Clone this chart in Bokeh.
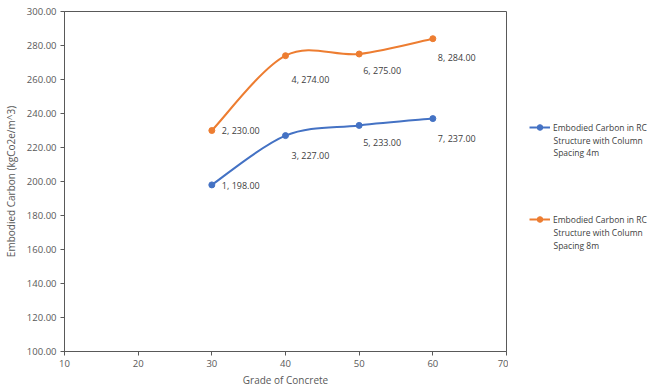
from bokeh.plotting import figure
from bokeh.layouts import row
from bokeh.models import (ColumnDataSource, Range1d, FixedTicker, NumeralTickFormatter,
                          Legend, LegendItem, Label)
from bokeh.core.properties import value
from bokeh.embed import file_html
from bokeh.resources import INLINE

# Data
grades = [30, 40, 50, 60]
carbon_4m = [198.0, 227.0, 233.0, 237.0]
carbon_8m = [230.0, 274.0, 275.0, 284.0]
point_ids_4m = [1, 3, 5, 7]
point_ids_8m = [2, 4, 6, 8]
series_names = ["Embodied Carbon in RC", "Embodied Carbon in RC"]
series_sub = [["Structure with Column", "Spacing 4m"], ["Structure with Column", "Spacing 8m"]]
x_ticks = [10, 20, 30, 40, 50, 60, 70]
y_ticks = [100, 120, 140, 160, 180, 200, 220, 240, 260, 280, 300]

BLUE = "#4472C4"
ORANGE = "#ED7D31"
TEXT = "#595959"
DARK = "#404040"
FONT = "Open Sans"
H = 389
TOP, BOTTOM = 11, 37          # borders around the plotting area
FRAME_BOTTOM = H - BOTTOM      # screen row of the x axis

# label placement (screen px offsets from each point, +y is down)
lbl_dx_4m = [10, 6, 4, 5]
lbl_dy_4m = [1, 20, 17, 20]
lbl_dx_8m = [10, 6, 4, 5]
lbl_dy_8m = [0, 24, 16, 19]


def smooth_segments(xs, ys):
    """Cubic Bezier pieces (Catmull-Rom style) through the given points."""
    n = len(xs)
    seg = dict(x0=[], y0=[], x1=[], y1=[], cx0=[], cy0=[], cx1=[], cy1=[])
    for i in range(n - 1):
        a = max(i - 1, 0)
        b = min(i + 2, n - 1)
        seg["x0"].append(xs[i]); seg["y0"].append(ys[i])
        seg["x1"].append(xs[i + 1]); seg["y1"].append(ys[i + 1])
        seg["cx0"].append(xs[i] + (xs[i + 1] - xs[a]) / 6)
        seg["cy0"].append(ys[i] + (ys[i + 1] - ys[a]) / 6)
        seg["cx1"].append(xs[i + 1] - (xs[b] - xs[i]) / 6)
        seg["cy1"].append(ys[i + 1] - (ys[b] - ys[i]) / 6)
    return seg


# ---- main chart ----
p = figure(width=508, height=H, output_backend="svg", toolbar_location=None,
           x_range=Range1d(10, 70), y_range=Range1d(100, 300),
           min_border_left=63, min_border_right=2, min_border_top=TOP,
           min_border_bottom=BOTTOM)
p.background_fill_color = "white"
p.border_fill_color = "white"
p.outline_line_color = TEXT
p.outline_line_width = 1
p.xgrid.visible = False
p.ygrid.visible = False

for ax in (p.xaxis[0], p.yaxis[0]):
    ax.axis_line_color = TEXT
    ax.major_tick_line_color = TEXT
    ax.minor_tick_line_color = None
    ax.major_tick_in = 0
    ax.major_tick_out = 4
    ax.major_label_text_font = FONT
    ax.major_label_text_font_size = "9.5px"
    ax.major_label_text_color = TEXT
    ax.axis_label_text_font = FONT
    ax.axis_label_text_font_size = "10px"
    ax.axis_label_text_font_style = "normal"
    ax.axis_label_text_color = TEXT

p.xaxis.ticker = FixedTicker(ticks=x_ticks)
p.yaxis.ticker = FixedTicker(ticks=y_ticks)
p.yaxis.formatter = NumeralTickFormatter(format="0.00")
p.xaxis.axis_label = "Grade of Concrete"
p.yaxis.axis_label = "Embodied Carbon (kgCo2e/m^3)"
p.xaxis.major_label_standoff = 4
p.xaxis.axis_label_standoff = 3
p.yaxis.major_label_standoff = 4
p.yaxis.axis_label_standoff = 6

# ---- legend panel ----
lg = figure(width=140, height=H, output_backend="svg", toolbar_location=None,
            x_range=Range1d(10, 70), y_range=Range1d(100, 300),
            x_axis_location=None, y_axis_location=None,
            min_border_left=0, min_border_right=0, min_border_top=TOP,
            min_border_bottom=BOTTOM)
lg.outline_line_color = None
lg.xgrid.visible = False
lg.ygrid.visible = False
lg.background_fill_color = "white"
lg.border_fill_color = "white"

legend_items = []
for vals, ids, dx, dy, color, name in [
    (carbon_4m, point_ids_4m, lbl_dx_4m, lbl_dy_4m, BLUE, series_names[0]),
    (carbon_8m, point_ids_8m, lbl_dx_8m, lbl_dy_8m, ORANGE, series_names[1]),
]:
    seg = smooth_segments(grades, vals)
    p.bezier(x0="x0", y0="y0", x1="x1", y1="y1", cx0="cx0", cy0="cy0",
             cx1="cx1", cy1="cy1", source=ColumnDataSource(seg),
             line_color=color, line_width=2)
    src = ColumnDataSource(dict(
        x=grades, y=vals, dx=dx, dy=dy,
        lbl=[f"{i}, {v:.2f}" for i, v in zip(ids, vals)]))
    p.scatter("x", "y", source=src, size=6, fill_color=color, line_color=color)
    p.text("x", "y", text="lbl", source=src, x_offset="dx", y_offset="dy",
           text_font=value(FONT), text_font_size="9px", text_color=DARK,
           text_baseline="middle", text_align="left")
    # hidden copies of the series that provide the legend swatches
    k_line = lg.line("x", "y", source=src, line_color=color, line_width=2, visible=False)
    k_dot = lg.scatter("x", "y", source=src, size=6, fill_color=color,
                       line_color=color, visible=False)
    legend_items.append(LegendItem(label=name, renderers=[k_line, k_dot]))

# legend entries: swatch rows at y=128 and y=220 (first text line of each entry)
legend = Legend(items=legend_items, location=(21, FRAME_BOTTOM - 227), orientation="vertical",
                padding=0, margin=0, spacing=78, glyph_width=21, glyph_height=14,
                label_height=14, label_standoff=3, border_line_color=None,
                background_fill_alpha=0, label_text_font=FONT,
                label_text_font_size="8.5px", label_text_color=DARK,
                click_policy="none")
lg.add_layout(legend, "center")

# continuation lines of the legend entries
for k, lines in enumerate(series_sub):
    for j, t in enumerate(lines):
        lg.add_layout(Label(x=45, y=FRAME_BOTTOM - (140.7 + 92.3 * k + 12.5 * j),
                            x_units="screen", y_units="screen", text=t,
                            text_font=FONT, text_font_size="8.5px", text_color=DARK,
                            text_baseline="middle", text_align="left"))

layout = row(p, lg, spacing=0)
open("out.html", "w").write(file_html(layout, INLINE))
